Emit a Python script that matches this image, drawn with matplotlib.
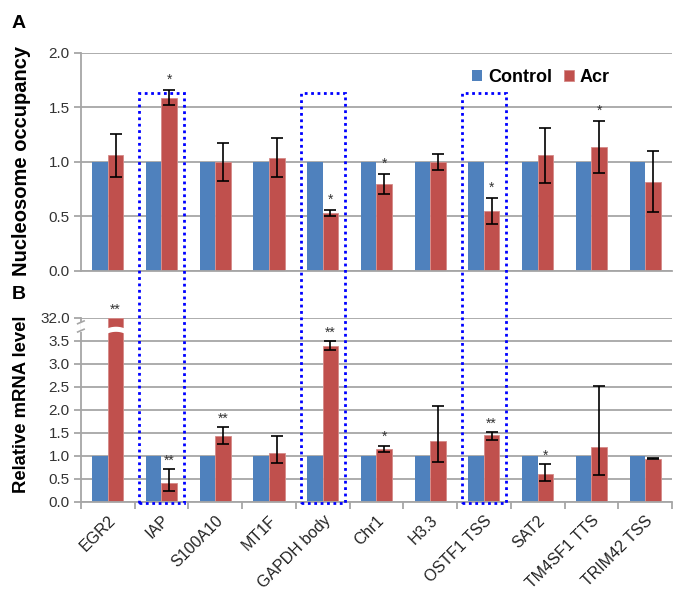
import matplotlib
matplotlib.use('Agg')
import matplotlib.pyplot as plt
import numpy as np
from matplotlib.patches import Rectangle

plt.rcParams['font.family'] = ['Liberation Sans', 'DejaVu Sans']

# ------------------------
# data
# ------------------------
genes = ['EGR2', 'IAP', 'S100A10', 'MT1F', 'GAPDH body', 'Chr1', 'H3.3',
         'OSTF1 TSS', 'SAT2', 'TM4SF1 TTS', 'TRIM42 TSS']

occ_ctrl = [1.0] * 11
occ_acr = [1.06, 1.59, 1.00, 1.04, 0.53, 0.80, 1.00, 0.55, 1.06, 1.14, 0.82]
occ_err = [0.20, 0.07, 0.17, 0.18, 0.03, 0.09, 0.07, 0.12, 0.25, 0.24, 0.28]
occ_sig = ['', '*', '', '', '*', '*', '', '*', '', '*', '']

mrna_ctrl = [1.0] * 11
mrna_acr = [32.0, 0.41, 1.42, 1.06, 3.38, 1.14, 1.33, 1.44, 0.60, 1.20, 0.93]
mrna_err_lo = [0.0, 0.18, 0.16, 0.22, 0.08, 0.06, 0.47, 0.09, 0.15, 0.63, 0.01]
mrna_err_hi = [0.0, 0.29, 0.21, 0.36, 0.11, 0.08, 0.76, 0.08, 0.21, 1.32, 0.01]
mrna_sig = ['**', '**', '**', '', '**', '*', '', '**', '*', '', '']

occ_ticks = [0.0, 0.5, 1.0, 1.5, 2.0]
mrna_ticks = [0.0, 0.5, 1.0, 1.5, 2.0, 2.5, 3.0, 3.5, 4.0]
mrna_ticklabels = ['0.0', '0.5', '1.0', '1.5', '2.0', '2.5', '3.0', '3.5', '32.0']

boxed = ['IAP', 'GAPDH body', 'OSTF1 TSS']

BLUE = '#4F81BD'
RED = '#C0504D'
GRID = '#A6A6A6'

# broken axis: anything above 3.5 goes to the top gridline (labelled 32.0)
def to_axis(v):
    return v if v <= 3.5 else 4.0

fig = plt.figure(figsize=(6.74, 5.94), dpi=100)
axA = fig.add_axes([0.120, 0.5438, 0.877, 0.367])
axB = fig.add_axes([0.120, 0.1554, 0.877, 0.3097])

x = np.arange(len(genes))
w = 0.29

def style_axis(ax, ticks, labels):
    ax.set_xlim(-0.5, len(genes) - 0.5)
    ax.set_yticks(ticks)
    ax.set_yticklabels(labels, fontsize=11, color='#333333')
    ax.yaxis.grid(True, color=GRID, lw=1.3)
    ax.set_axisbelow(True)
    for s in ['top', 'right']:
        ax.spines[s].set_visible(False)
    ax.spines['left'].set_color(GRID)
    ax.spines['bottom'].set_color(GRID)
    ax.spines['left'].set_linewidth(1.3)
    ax.spines['bottom'].set_linewidth(1.3)
    ax.tick_params(axis='y', length=5, color=GRID, width=1.3, pad=3)

# ------------------------
# A: nucleosome occupancy
# ------------------------
axA.bar(x - w / 2, occ_ctrl, w, color=BLUE, label='Control', zorder=2)
axA.bar(x + w / 2, occ_acr, w, color=RED, edgecolor='#D58A88', lw=0.6,
        label='Acr', zorder=2)
axA.errorbar(x + w / 2, occ_acr, yerr=occ_err, fmt='none', ecolor='black',
             elinewidth=1.2, capsize=4, capthick=1.2, zorder=3)
for i, s in enumerate(occ_sig):
    if s:
        axA.annotate(s, (x[i] + w / 2, occ_acr[i] + occ_err[i]), xytext=(0, 2),
                     textcoords='offset points', ha='center', va='bottom',
                     fontsize=10, color='#333333', zorder=4)
axA.set_ylim(0, 2.0)
style_axis(axA, occ_ticks, ['%.1f' % t for t in occ_ticks])
axA.set_xticks([])
axA.legend(loc='upper left', bbox_to_anchor=(0.635, 1.0), ncol=2, frameon=False,
           handlelength=0.55, handleheight=0.55, handletextpad=0.3, columnspacing=0.7,
           prop={'weight': 'bold', 'size': 13})

# ------------------------
# B: relative mRNA level
# ------------------------
acr_plot = [to_axis(v) for v in mrna_acr]
axB.bar(x - w / 2, mrna_ctrl, w, color=BLUE, zorder=2)
axB.bar(x + w / 2, acr_plot, w, color=RED, edgecolor='#D58A88', lw=0.6, zorder=2)
has_err = [i for i in range(len(genes)) if mrna_err_hi[i] > 0]
axB.errorbar(x[has_err] + w / 2, [acr_plot[i] for i in has_err],
             yerr=[[mrna_err_lo[i] for i in has_err], [mrna_err_hi[i] for i in has_err]],
             fmt='none', ecolor='black', elinewidth=1.2, capsize=4, capthick=1.2, zorder=3)
for i, s in enumerate(mrna_sig):
    if s:
        axB.annotate(s, (x[i] + w / 2, acr_plot[i] + mrna_err_hi[i]), xytext=(0, 1),
                     textcoords='offset points', ha='center', va='bottom',
                     fontsize=10, color='#333333', zorder=4, annotation_clip=False)
axB.set_ylim(0, 4.0)
style_axis(axB, mrna_ticks, mrna_ticklabels)
axB.set_xticks(x)
axB.set_xticklabels(genes, rotation=45, ha='right', rotation_mode='anchor',
                    fontsize=11.5, color='#222222')
axB.tick_params(axis='x', which='major', length=0, pad=8)
axB.set_xticks(np.arange(-0.5, len(genes), 1.0), minor=True)
axB.tick_params(axis='x', which='minor', length=5, color=GRID, width=1.3)

# white gap through the clipped bars
for i, v in enumerate(mrna_acr):
    if v > 3.5:
        xs = np.linspace(x[i] + w / 2 - w / 2 - 0.02, x[i] + w / 2 + w / 2 + 0.02, 30)
        bow = 0.03 * (1 - ((xs - (x[i] + w / 2)) / (w / 2)) ** 2)
        axB.fill_between(xs, 3.69 + bow, 3.77 + bow, color='white', zorder=2.5)

# axis break marks on the y axis
for yb in [3.72, 3.9]:
    axB.plot([-0.56, -0.44], [yb - 0.03, yb + 0.03], color=GRID, lw=1.2,
             clip_on=False, zorder=5)
axB.plot([-0.5, -0.5], [3.73, 3.89], color='white', lw=2, clip_on=False, zorder=4)

# ------------------------
# dotted boxes across both panels
# ------------------------
fig.canvas.draw()
inv = fig.transFigure.inverted()
for g in boxed:
    i = genes.index(g)
    x0, y0 = inv.transform(axB.transData.transform((i - 0.41, -0.03)))
    x1, y1 = inv.transform(axA.transData.transform((i + 0.41, 1.63)))
    fig.patches.append(Rectangle((x0, y0), x1 - x0, y1 - y0, transform=fig.transFigure,
                                 fill=False, edgecolor='#0000FF', lw=2.0,
                                 linestyle=(0, (1, 1.3)), zorder=10))

# labels
fig.text(0.032, 1 - 160.5 / 594, 'Nucleosome occupancy', rotation=90, ha='center',
         va='center', fontsize=14.5, fontweight='bold')
fig.text(0.032, 1 - 404 / 594, 'Relative mRNA level', rotation=90, ha='center',
         va='center', fontsize=13.3, fontweight='bold')
fig.text(0.017, 1 - 23 / 594, 'A', fontsize=14, fontweight='bold', va='center')
fig.text(0.017, 1 - 294 / 594, 'B', fontsize=14, fontweight='bold', va='center')

fig.savefig('out.png', dpi=100)
